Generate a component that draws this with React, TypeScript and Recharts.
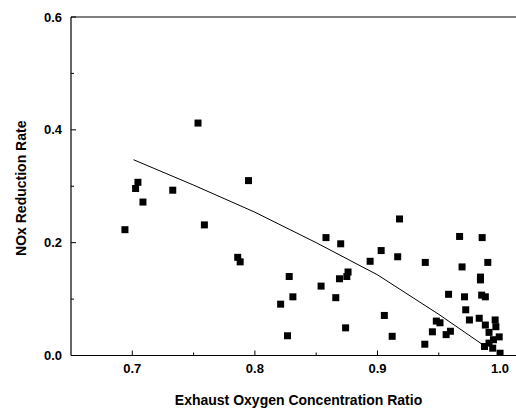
import { ScatterChart, Scatter, XAxis, YAxis, ReferenceLine, Label } from 'recharts';

const ratio = [
  0.694, 0.7046, 0.7027, 0.7087, 0.733, 0.7536, 0.7588, 0.786, 0.788, 0.7948,
  0.821, 0.8266, 0.828, 0.831, 0.854, 0.858, 0.866, 0.869, 0.87, 0.874,
  0.875, 0.876, 0.894, 0.903, 0.9056, 0.912, 0.9165, 0.918, 0.9386, 0.939,
  0.9448, 0.948, 0.951, 0.956, 0.9595, 0.958, 0.967, 0.969, 0.971, 0.972,
  0.975, 0.983, 0.984, 0.984, 0.985, 0.9854, 0.988, 0.988, 0.9873, 0.99,
  0.991, 0.991, 0.994, 0.9946, 0.996, 0.9966, 0.9993, 1.0,
];
const reduction = [
  0.223, 0.307, 0.296, 0.272, 0.293, 0.412, 0.2315, 0.174, 0.166, 0.31,
  0.091, 0.035, 0.14, 0.104, 0.123, 0.209, 0.1025, 0.136, 0.198, 0.049,
  0.14, 0.148, 0.167, 0.186, 0.071, 0.034, 0.175, 0.242, 0.02, 0.165,
  0.042, 0.061, 0.058, 0.037, 0.043, 0.1085, 0.211, 0.157, 0.104, 0.081,
  0.063, 0.066, 0.139, 0.134, 0.107, 0.209, 0.104, 0.054, 0.016, 0.165,
  0.041, 0.022, 0.013, 0.028, 0.063, 0.051, 0.033, 0.004,
];

// fitted curve
const fitRatio = [0.701, 0.75, 0.8, 0.85, 0.9, 0.95, 0.988];
const fitReduction = [0.347, 0.302, 0.254, 0.2, 0.143, 0.073, 0.016];

const xTicks = [0.7, 0.75, 0.8, 0.85, 0.9, 0.95, 1.0];
const xLabels = ['0.7', '0.8', '0.9', '1.0'];
const yTicks = [0, 0.1, 0.2, 0.3, 0.4, 0.5, 0.6];
const yLabels = ['0.0', '0.2', '0.4', '0.6'];

const points = ratio.map((x, i) => ({ x, y: reduction[i] }));
const fit = fitRatio.map((x, i) => ({ x, y: fitReduction[i] }));

const font = '"Liberation Sans", Arial, sans-serif';

const XTick = (props: any) => {
  const { x, y, payload } = props;
  const label = payload.value.toFixed(1);
  const major = xLabels.includes(label) && Math.abs(payload.value * 10 - Math.round(payload.value * 10)) < 1e-6;
  return (
    <g>
      <line x1={x} x2={x} y1={y} y2={y - (major ? 5 : 3)} stroke="#000" strokeWidth={1} />
      {major && (
        <text x={x} y={y + 17} textAnchor="middle" fontFamily={font} fontWeight="bold" fontSize={13} fill="#000">
          {label}
        </text>
      )}
    </g>
  );
};

const YTick = (props: any) => {
  const { x, y, payload } = props;
  const label = payload.value.toFixed(1);
  const major = yLabels.includes(label);
  return (
    <g>
      <line x1={x} x2={x + (major ? 5 : 3)} y1={y} y2={y} stroke="#000" strokeWidth={1} />
      {major && (
        <text x={x - 9} y={y + 4.5} textAnchor="end" fontFamily={font} fontWeight="bold" fontSize={13} fill="#000">
          {label}
        </text>
      )}
    </g>
  );
};

const Square = (props: any) => {
  const { cx, cy } = props;
  return <rect x={cx - 3.5} y={cy - 3.5} width={7} height={7} fill="#000" />;
};

export default function App() {
  return (
    <div style={{ position: 'absolute', left: 0, top: 0, background: '#fff' }}>
      <ScatterChart width={516} height={413} margin={{ top: 17, right: 0, bottom: 0, left: 0 }}>
        <XAxis
          type="number"
          dataKey="x"
          domain={[0.65, 1.013]}
          allowDataOverflow
          ticks={xTicks}
          tick={<XTick />}
          tickLine={false}
          tickSize={0}
          tickMargin={0}
          height={57.5}
          stroke="#000"
          strokeWidth={1.2}
        >
          <Label
            value="Exhaust Oxygen Concentration Ratio"
            position="insideBottom"
            offset={8}
            dx={5}
            style={{ fontFamily: font, fontWeight: 'bold', fontSize: 14, fill: '#000' }}
          />
        </XAxis>
        <YAxis
          type="number"
          dataKey="y"
          domain={[0, 0.6]}
          allowDataOverflow
          ticks={yTicks}
          tick={<YTick />}
          tickLine={false}
          tickSize={0}
          tickMargin={0}
          width={71}
          stroke="#000"
          strokeWidth={1.2}
        >
          <Label
            value="NOx Reduction Rate"
            angle={-90}
            position="insideLeft"
            offset={21}
            dy={2}
            style={{ textAnchor: 'middle', fontFamily: font, fontWeight: 'bold', fontSize: 14, fill: '#000' }}
          />
        </YAxis>
        <ReferenceLine y={0.6} stroke="#000" strokeWidth={1.2} />
        <Scatter data={points} shape={<Square />} isAnimationActive={false} />
        <Scatter
          data={fit}
          line={{ stroke: '#000', strokeWidth: 1 }}
          lineType="joint"
          shape={() => <g />}
          isAnimationActive={false}
        />
      </ScatterChart>
    </div>
  );
}
